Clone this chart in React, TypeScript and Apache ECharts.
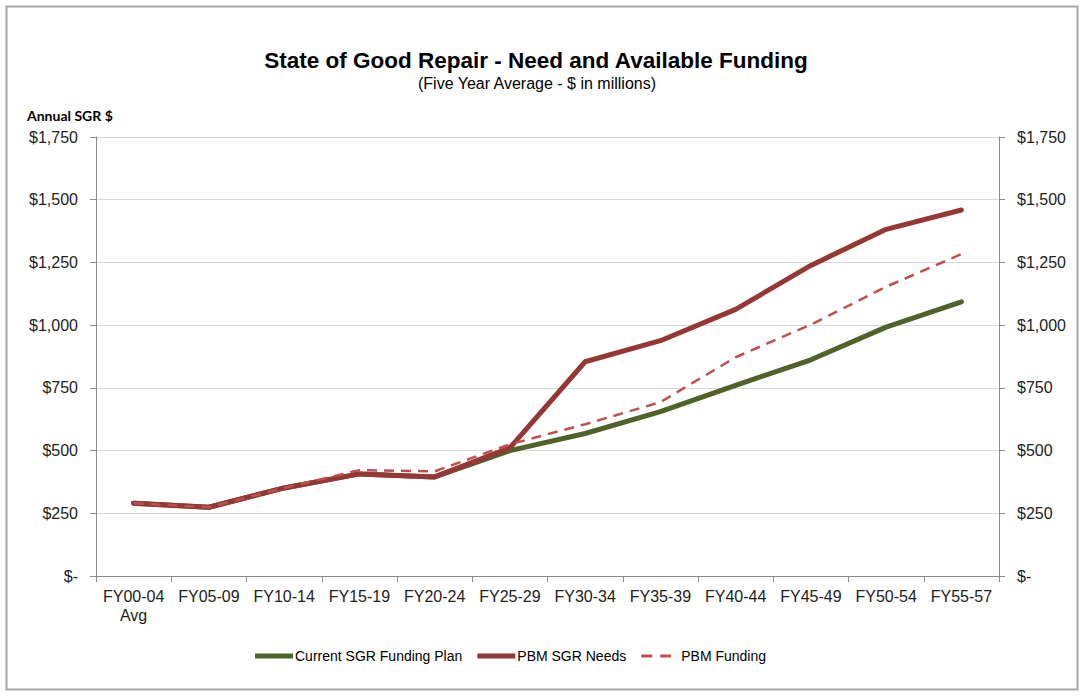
import React, { useEffect, useRef } from "react";
import * as echarts from "echarts";

const categories = [
  "FY00-04\nAvg", "FY05-09", "FY10-14", "FY15-19", "FY20-24", "FY25-29",
  "FY30-34", "FY35-39", "FY40-44", "FY45-49", "FY50-54", "FY55-57",
];
const currentPlan = [290, 274, 351, 407, 395, 500, 568, 655, 760, 862, 992, 1093];
const pbmNeeds = [290, 274, 351, 407, 395, 511, 854, 938, 1063, 1238, 1382, 1459];
const pbmFunding = [290, 274, 351, 422, 417, 525, 605, 693, 872, 1002, 1153, 1283];
const seriesNames = ["Current SGR Funding Plan", "PBM SGR Needs", "PBM Funding"];
const yTicks = { min: 0, max: 1750, interval: 250 };

const fmt = (v: number) => (v === 0 ? "$-" : "$" + v.toLocaleString("en-US"));

const SOLID_ICON = "path://M0,0h38v5h-38z";
const DASH_ICON = "path://M0,1h11v3h-11z M19,1h11v3h-11z M38,0v5h0z";

export default function App() {
  const ref = useRef<HTMLDivElement>(null);
  useEffect(() => {
    const chart = echarts.init(ref.current!, undefined, { renderer: "svg" });
    const font = "'Liberation Sans', Arial, sans-serif";
    const axisLabel = { color: "#222", fontSize: 16, fontFamily: font, formatter: fmt };
    const yCommon = {
      type: "value" as const,
      min: yTicks.min,
      max: yTicks.max,
      interval: yTicks.interval,
      axisLine: { show: true, lineStyle: { color: "#8c8c8c", width: 1 } },
      axisTick: { show: true, length: 6, lineStyle: { color: "#8c8c8c" } },
    };
    chart.setOption({
      animation: false,
      backgroundColor: "#fff",
      graphic: [
        {
          type: "rect",
          shape: { x: 6.5, y: 6.5, width: 1071, height: 683 },
          style: { fill: "none", stroke: "#a6a6a6", lineWidth: 2 },
          silent: true,
        },
        {
          type: "text",
          x: 536,
          y: 60,
          style: {
            text: "State of Good Repair - Need and Available Funding",
            fontSize: 22.5,
            fontWeight: "bold",
            fontFamily: font,
            fill: "#000",
            align: "center",
            verticalAlign: "middle",
          },
        },
        {
          type: "text",
          x: 537,
          y: 83,
          style: {
            text: "(Five Year Average - $ in millions)",
            fontSize: 16,
            fontFamily: font,
            fill: "#000",
            align: "center",
            verticalAlign: "middle",
          },
        },
        {
          type: "text",
          x: 27,
          y: 115,
          style: {
            text: "Annual SGR $",
            fontSize: 14,
            fontWeight: "bold",
            fontFamily: "Lato, 'Open Sans', sans-serif",
            fill: "#000",
            align: "left",
            verticalAlign: "middle",
          },
        },
      ],
      grid: { left: 96, right: 82, top: 137, bottom: 120, containLabel: false },
      legend: {
        left: 255,
        top: 649,
        padding: 0,
        itemWidth: 38,
        itemHeight: 5,
        itemGap: 15,
        itemStyle: { borderWidth: 0 },
        textStyle: { fontSize: 14, fontFamily: font, color: "#000", padding: [0, 0, 0, -3] },
        data: [
          { name: seriesNames[0], icon: SOLID_ICON },
          { name: seriesNames[1], icon: SOLID_ICON },
          { name: seriesNames[2], icon: DASH_ICON },
        ],
      },
      xAxis: {
        type: "category",
        data: categories,
        boundaryGap: true,
        axisLine: { lineStyle: { color: "#8c8c8c", width: 1 } },
        axisTick: { show: true, length: 6, alignWithLabel: false, lineStyle: { color: "#8c8c8c" } },
        axisLabel: { color: "#222", fontSize: 16, fontFamily: font, margin: 11, lineHeight: 19, interval: 0 },
        splitLine: { show: false },
      },
      yAxis: [
        {
          ...yCommon,
          position: "left",
          axisLabel: { ...axisLabel, margin: 18 },
          splitLine: { show: true, lineStyle: { color: "#d9d9d9", width: 1 } },
        },
        {
          ...yCommon,
          position: "right",
          axisLabel: { ...axisLabel, margin: 18 },
          splitLine: { show: false },
        },
      ],
      series: [
        {
          name: seriesNames[0],
          type: "line",
          data: currentPlan,
          symbol: "none",
          lineStyle: { color: "#4f6228", width: 5, cap: "round", join: "round" },
          itemStyle: { color: "#4f6228" },
        },
        {
          name: seriesNames[1],
          type: "line",
          data: pbmNeeds,
          symbol: "none",
          lineStyle: { color: "#953735", width: 5, cap: "round", join: "round" },
          itemStyle: { color: "#953735" },
        },
        {
          name: seriesNames[2],
          type: "line",
          data: pbmFunding,
          symbol: "none",
          lineStyle: { color: "#c0504d", width: 2.5, type: [10, 7] },
          itemStyle: { color: "#c0504d" },
        },
      ],
    });
    return () => chart.dispose();
  }, []);
  return (
    <div
      ref={ref}
      style={{ position: "fixed", left: 0, top: 0, width: 1081, height: 696, background: "#fff" }}
    />
  );
}
